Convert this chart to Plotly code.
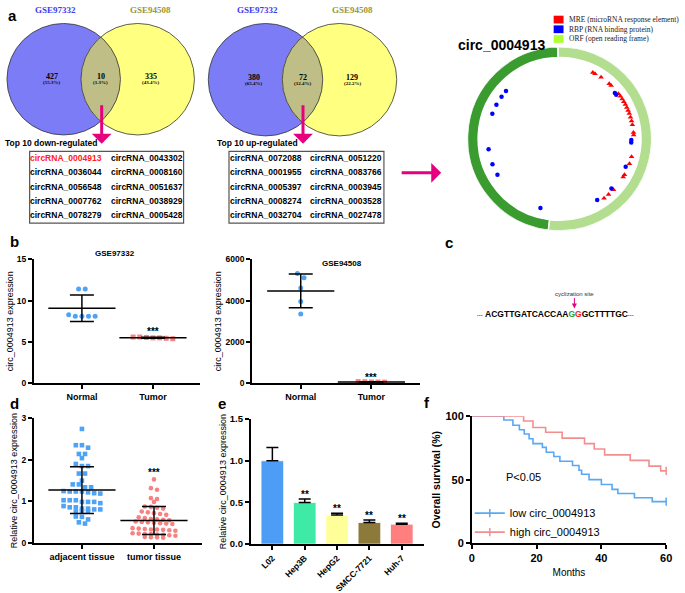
import numpy as np
import plotly.graph_objects as go

W, H = 685, 593
SANS = "Liberation Sans, Arial, sans-serif"
SERIF = "Liberation Serif, Times New Roman, serif"


def X(px):
    return px / W


def Y(py):
    return 1 - py / H


# ---------------- data ----------------
venn_names = ["GSE97332", "GSE94508"]
venn_down_counts = [427, 10, 335]
venn_down_pct = ["(55.3%)", "(1.3%)", "(43.4%)"]
venn_up_counts = [380, 72, 129]
venn_up_pct = ["(65.4%)", "(12.4%)", "(22.2%)"]

top10_down = ["circRNA_0004913", "circRNA_0043302", "circRNA_0036044", "circRNA_0008160",
              "circRNA_0056548", "circRNA_0051637", "circRNA_0007762", "circRNA_0038929",
              "circRNA_0078279", "circRNA_0005428"]
top10_up = ["circRNA_0072088", "circRNA_0051220", "circRNA_0001955", "circRNA_0083766",
            "circRNA_0005397", "circRNA_0003945", "circRNA_0008274", "circRNA_0003528",
            "circRNA_0032704", "circRNA_0027478"]
highlight = "circRNA_0004913"

circ_name = "circ_0004913"
circ_exon_span_deg = [172, 188]
mre_pos_deg = [63.4, 61.5, 56, 48, 46, 37.5, 35, 32.5, 30, 27.5, 25, 22.5, 20, 17, 14,
               11, 5, 3, 346, 340.4, 331, 329, 316.6, 311.3, 306.8]
rbp_pos_deg = [138.3, 144, 151.7, 159.6, 188.3, 200.7, 210, 254.5, 301.6, 316.3, 337.1,
               359, 357, 39.6, 37.9]
circ_legend = ["MRE (microRNA response element)", "RBP (RNA binding protein)",
               "ORF (open reading frame)"]

seq_left = "ACGTTGATCACCAA"
seq_junction = ["G", "G"]
seq_right = "GCTTTTGC"

b_groups = ["Normal", "Tumor"]
gse97332_normal = [11.4, 11.4, 8.3, 8.1, 8.1, 8.1, 8.1]
gse97332_tumor = [5.6, 5.55, 5.5, 5.4, 5.5, 5.45, 5.6]
gse94508_normal = [5310, 5100, 4600, 3950, 3350]
gse94508_tumor = [70, 85, 75, 90, 65]

d_groups = ["adjacent tissue", "tumor tissue"]
adjacent_tissue = [2.74, 2.35, 2.35, 2.29, 2.14, 2.14, 2.04, 1.9, 1.85, 1.85, 1.67, 1.67,
                   1.5, 1.41, 1.41, 1.34, 1.34, 1.25, 1.24, 1.24, 1.24, 1.22, 1.2, 1.19,
                   1.03, 1.03, 1.03, 0.99, 0.99, 0.99, 0.96, 0.89, 0.86, 0.86, 0.83, 0.83,
                   0.81, 0.81, 0.76, 0.76, 0.76, 0.64, 0.63, 0.57, 0.5, 0.47]
tumor_tissue = [1.53, 1.32, 1.28, 1.08, 1.06, 0.99, 0.88, 0.87, 0.85, 0.83, 0.76, 0.74,
                0.72, 0.7, 0.68, 0.62, 0.6, 0.58, 0.57, 0.56, 0.55, 0.52, 0.51, 0.5, 0.49,
                0.48, 0.47, 0.46, 0.36, 0.35, 0.34, 0.33, 0.33, 0.32, 0.31, 0.3, 0.24,
                0.23, 0.22, 0.22, 0.21, 0.2, 0.19, 0.18, 0.15, 0.14, 0.14, 0.13]

cell_lines = ["L02", "Hep3B", "HepG2", "SMCC-7721", "Huh-7"]
cell_expr = [1.0, 0.5, 0.35, 0.26, 0.24]
cell_sd = [0.16, 0.04, 0.02, 0.03, 0.012]
cell_sig = ["", "**", "**", "**", "**"]

km_low_months = [0, 9.9, 12.7, 14.7, 16.2, 17.7, 18.9, 21.8, 23, 25.3, 27.2, 31.1, 33.1,
                 33.9, 36.2, 40, 43.3, 45.1, 50.2, 55.7, 60]
km_low_surv = [100, 97, 92.9, 89.3, 86, 82.2, 78.4, 75.4, 71.6, 68.3, 64.5, 61.2, 57.4,
               54.3, 50, 46.2, 42.4, 39.1, 35.8, 32.7, 32.7]
km_high_months = [0, 16, 18.9, 22.8, 27.9, 34.8, 37.8, 41, 48.9, 54.7, 58.3, 60]
km_high_surv = [100, 96.2, 91.1, 87.3, 82.7, 78.4, 74.1, 69.5, 65.2, 60.7, 56.9, 56.9]
km_labels = ["low circ_0004913", "high circ_0004913"]
p_text = "P<0.05"

# ---------------- colours ----------------
BLUE = "#4fa3f7"
SALMON = "#f78282"
MAGENTA = "#e6007e"
KM_BLUE = "#5aa8f2"
KM_RED = "#f38e8e"
bar_colors = ["#4d9cf5", "#3eeaa6", "#ffff99", "#8b7a3a", "#ff7f7f"]

fig = go.Figure()


def row_offsets(vals, ppy, thr_px, dx_px):
    """Prism-like scatter: values falling within thr_px of a row's top share a row,
    spread horizontally and centred."""
    vals = np.asarray(vals, float)
    order = np.argsort(-vals)
    offs = np.zeros(len(vals))
    rows = []
    for i in order:
        if rows and (vals[rows[-1][0]] - vals[i]) * ppy <= thr_px:
            rows[-1].append(i)
        else:
            rows.append([i])
    for r in rows:
        n = len(r)
        for k, i in enumerate(r):
            offs[i] = (k - (n - 1) / 2) * dx_px
    return offs


def scatter_groups(xa, ya, data, colors, symbols, ppx, ppy, thr=3.5, dx=6.5, size=5):
    for i, (vals, col, sym) in enumerate(zip(data, colors, symbols)):
        offs = row_offsets(vals, ppy, thr, dx) / ppx
        fig.add_trace(go.Scatter(x=i + offs, y=vals, mode="markers",
                                 marker=dict(symbol=sym, size=size, color=col, line=dict(width=0)),
                                 xaxis=xa, yaxis=ya, showlegend=False, cliponaxis=False,
                                 hoverinfo="skip"))
    for i, vals in enumerate(data):
        m = float(np.mean(vals))
        s = float(np.std(vals, ddof=1))
        fig.add_trace(go.Scatter(x=[i], y=[m], mode="markers",
                                 marker=dict(symbol="line-ew", size=48, color="black",
                                             line=dict(width=1.5, color="black")),
                                 error_y=dict(type="data", array=[s], color="black",
                                              thickness=1.5, width=12),
                                 xaxis=xa, yaxis=ya, showlegend=False, cliponaxis=False))


# panel b
scatter_groups("x", "y", [gse97332_normal, gse97332_tumor], [BLUE, SALMON],
               ["circle", "square"], 72.0, 128.3 / 15, thr=3.5, dx=6.7)
scatter_groups("x2", "y2", [gse94508_normal, gse94508_tumor], [BLUE, SALMON],
               ["circle", "square"], 71.6, 128.3 / 6000, thr=5, dx=6.7)
# panel d
scatter_groups("x3", "y3", [adjacent_tissue, tumor_tissue], [BLUE, SALMON],
               ["square", "circle"], 73.0, 43.0, thr=3.5, dx=6.2, size=4.6)

# panel e
fig.add_trace(go.Bar(x=list(range(len(cell_lines))), y=cell_expr, width=0.7,
                     marker=dict(color=bar_colors, line=dict(color="rgba(255,255,255,0.8)", width=1)),
                     error_y=dict(type="data", array=cell_sd, arrayminus=[0] * len(cell_sd),
                                  symmetric=False, color="black", thickness=1.5, width=6),
                     xaxis="x4", yaxis="y4", showlegend=False))

# panel f
for months, surv, col, lab in [(km_low_months, km_low_surv, KM_BLUE, km_labels[0]),
                               (km_high_months, km_high_surv, KM_RED, km_labels[1])]:
    fig.add_trace(go.Scatter(x=months, y=surv, mode="lines", line=dict(shape="hv", color=col, width=1.6),
                             xaxis="x5", yaxis="y5", showlegend=False, cliponaxis=False))
    fig.add_trace(go.Scatter(x=[months[-1]], y=[surv[-1]], mode="markers",
                             marker=dict(symbol="line-ns", size=6, color=col, line=dict(width=1.5, color=col)),
                             xaxis="x5", yaxis="y5", showlegend=False, cliponaxis=False))
    fig.add_trace(go.Scatter(x=[None], y=[None], mode="lines+markers", name=lab,
                             line=dict(color=col, width=1.6),
                             marker=dict(symbol="line-ns", size=6, color=col, line=dict(width=1.5, color=col)),
                             xaxis="x5", yaxis="y5", showlegend=True))

# circos (polar)
starts = 91 + np.concatenate([[0], np.cumsum(circ_exon_span_deg)[:-1]])
centers = starts + np.array(circ_exon_span_deg) / 2
fig.add_trace(go.Barpolar(r=[11, 11], base=[84, 84], theta=centers, width=circ_exon_span_deg,
                          marker=dict(color=["#3a9b2f", "#b3de8f"], line=dict(color="white", width=1.5)),
                          subplot="polar", showlegend=False))
fig.add_trace(go.Scatterpolar(r=[76.5] * len(mre_pos_deg), theta=mre_pos_deg, mode="markers",
                              marker=dict(symbol="triangle-up", size=5, color="#ff0000"),
                              subplot="polar", showlegend=False))
fig.add_trace(go.Scatterpolar(r=[74] * len(rbp_pos_deg), theta=rbp_pos_deg, mode="markers",
                              marker=dict(symbol="circle", size=4.5, color="#0000ff"),
                              subplot="polar", showlegend=False))

# ---------------- axes ----------------
def tf(size):
    return dict(family=SANS, size=size, color="black", weight="bold")


base_axis = dict(showline=True, linecolor="black", linewidth=1.5, ticks="outside", ticklen=4,
                 tickwidth=1.5, tickcolor="black", showgrid=False, zeroline=False, fixedrange=True)


def ytitle(text, size=9, bold=False, standoff=2):
    return dict(text=text, font=dict(family=SANS, size=size, color="black",
                                     weight="bold" if bold else "normal"), standoff=standoff)


layout_axes = dict(
    xaxis=dict(base_axis, domain=[X(31), X(200)], range=[-0.68, 1.667], tickvals=[0, 1],
               ticktext=b_groups, tickfont=tf(9), anchor="y"),
    yaxis=dict(base_axis, domain=[Y(389.3), Y(261)], range=[0, 15], tickvals=[0, 5, 10, 15],
               tickfont=tf(8.5), anchor="x", title=ytitle("circ_0004913 expression")),
    xaxis2=dict(base_axis, domain=[X(252.3), X(422.7)], range=[-0.69, 1.69], tickvals=[0, 1],
                ticktext=b_groups, tickfont=tf(9), anchor="y2"),
    yaxis2=dict(base_axis, domain=[Y(389.3), Y(261)], range=[0, 6000], tickvals=[0, 2000, 4000, 6000],
                tickfont=tf(8.5), anchor="x2", title=ytitle("circ_0004913 expression")),
    xaxis3=dict(base_axis, domain=[X(31), X(202)], range=[-0.671, 1.671], tickvals=[0, 1],
                ticktext=d_groups, tickfont=tf(9), anchor="y3"),
    yaxis3=dict(base_axis, domain=[Y(554), Y(425)], range=[0, 3], tickvals=[0, 1, 2, 3],
                tickfont=tf(8.5), anchor="x3", title=ytitle("Relative circ_0004913 expression")),
    xaxis4=dict(base_axis, domain=[X(251), X(427)], range=[-0.67, 4.70],
                tickvals=list(range(len(cell_lines))), ticktext=cell_lines, tickangle=-45,
                tickfont=tf(8.5), anchor="y4"),
    yaxis4=dict(base_axis, domain=[Y(555), Y(426)], range=[0, 1.5], tickvals=[0, 0.5, 1.0, 1.5],
                tickformat=".1f", tickfont=tf(9.5), anchor="x4",
                title=ytitle("Relative circ_0004913 expression")),
    xaxis5=dict(base_axis, domain=[X(475), X(672)], range=[0, 60], tickvals=[0, 20, 40, 60],
                tickfont=tf(11), anchor="y5",
                title=dict(text="Months", font=dict(family=SANS, size=10, color="black"), standoff=6)),
    yaxis5=dict(base_axis, domain=[Y(554), Y(423)], range=[0, 100], tickvals=[0, 50, 100],
                tickfont=tf(11), anchor="x5", title=ytitle("Overall survival (%)", 10.5, True, 3)),
)

# ---------------- shapes & annotations ----------------
shapes = []
ann = []


def text(x, y, s, size=9, color="black", family=SANS, bold=False, xanchor="center", yanchor="middle", angle=0):
    ann.append(dict(x=X(x), y=Y(y), xref="paper", yref="paper", text=s, showarrow=False,
                    xanchor=xanchor, yanchor=yanchor, textangle=angle,
                    font=dict(family=family, size=size, color=color, weight="bold" if bold else "normal")))


def circle(cx, cy, r, fill, line_w=0, line_c="#333333"):
    shapes.append(dict(type="circle", xref="paper", yref="paper", x0=X(cx - r), x1=X(cx + r),
                       y0=Y(cy + r), y1=Y(cy - r), fillcolor=fill, line=dict(width=line_w, color=line_c),
                       layer="below"))


def lens(c1, c2, r, fill):
    (x1, y1), (x2, y2) = c1, c2
    a = (x2 - x1) / 2
    phi = np.arccos(a / r)
    pts = [(x1 + r * np.cos(t), y1 + r * np.sin(t)) for t in np.linspace(-phi, phi, 40)]
    pts += [(x2 + r * np.cos(t), y2 + r * np.sin(t)) for t in np.linspace(np.pi - phi, np.pi + phi, 40)]
    path = "M" + " L".join(f"{X(px):.5f},{Y(py):.5f}" for px, py in pts) + " Z"
    shapes.append(dict(type="path", xref="paper", yref="paper", path=path, fillcolor=fill,
                       line=dict(width=0), layer="below"))


def venn(c1x, c2x, cy, r, counts, pcts):
    circle(c1x, cy, r, "#7c7cf6")
    circle(c2x, cy, r, "#ffff80")
    lens((c1x, cy), (c2x, cy), r, "#bebe86")
    circle(c1x, cy, r, "rgba(0,0,0,0)", 0.8)
    circle(c2x, cy, r, "rgba(0,0,0,0)", 0.8)
    xs = [c1x - 12, (c1x + c2x) / 2, c2x + 13]
    for xx, c, p in zip(xs, counts, pcts):
        text(xx, cy - 2.5, str(c), 8, family=SERIF, bold=True)
        text(xx, cy + 3.8, p, 5, family=SERIF, bold=True)
    text(c1x - 8, 4, venn_names[0], 9, "#3b3bf0", SERIF, True)
    text(c2x + 13, 4, venn_names[1], 9, "#9a963a", SERIF, True)


venn(61.5, 136.5, 75.5, 57.5, venn_down_counts, venn_down_pct)
venn(266, 341, 76, 58, venn_up_counts, venn_up_pct)


def table(x0, x1, y0, y1, names, header, hx):
    shapes.append(dict(type="rect", xref="paper", yref="paper", x0=X(x0), x1=X(x1), y0=Y(y1), y1=Y(y0),
                       line=dict(color="#555555", width=1.2), fillcolor="rgba(0,0,0,0)"))
    text(hx, 141, header, 8.5, bold=True, xanchor="left")
    for k, nm in enumerate(names):
        row, col = divmod(k, 2)
        cx = x0 + (37 if col == 0 else 119)
        cy = y0 + 6.8 + row * 14.75
        text(cx, cy, nm, 8.5, "#ff2020" if nm == highlight else "black", bold=True)


table(27, 183, 150, 224, top10_down, "Top 10 down-regulated", 0.5)
table(229, 386, 150, 224, top10_up, "Top 10 up-regulated", 215)


def arrow(x, y, ax, ay, width=3, head=1, size=1.1, color=MAGENTA):
    ann.append(dict(x=X(x), y=Y(y), xref="paper", yref="paper", ax=ax, ay=ay, axref="pixel",
                    ayref="pixel", showarrow=True, arrowhead=head, arrowsize=size,
                    arrowwidth=width, arrowcolor=color, text=""))


arrow(100, 142, 0, -40)
arrow(304, 142, 0, -40)
arrow(444, 172, -41, 0)

# circos legend and title
legend_cols = ["#ff0000", "#0000ff", "#adff2f"]
for k, (lab, col) in enumerate(zip(circ_legend, legend_cols)):
    yc = 14 + 10 * k
    shapes.append(dict(type="rect", xref="paper", yref="paper", x0=X(558), x1=X(568),
                       y0=Y(yc + 4), y1=Y(yc - 4), fillcolor=col, line=dict(width=0)))
    text(572, yc, lab, 7.5, "#222222", SERIF, xanchor="left")
text(459, 40, circ_name, 14, bold=True, xanchor="left")

# panel c sequence
dots = "<span style='font-size:6px'>···</span>"
seq = (dots + " " + seq_left + f"<span style='color:#2ca02c'>{seq_junction[0]}</span>"
       + f"<span style='color:#ff2020'>{seq_junction[1]}</span>" + seq_right + dots)
text(560, 318, seq, 8.5, bold=True)
ann.append(dict(x=X(579), y=Y(312), xref="paper", yref="paper", ax=0, ay=-15, showarrow=True,
                arrowhead=2, arrowsize=1, arrowwidth=1, arrowcolor=MAGENTA, text="cyclization site",
                font=dict(family=SANS, size=6, color="#333333")))

# panel labels
for lab, (lx, ly) in {"a": (10, 10), "b": (12, 243), "c": (452, 244), "d": (12, 410),
                      "e": (222, 410), "f": (430, 409)}.items():
    text(lx, ly, lab, 15, bold=True)

# panel titles
text(113, 255, "GSE97332", 8, bold=True)
text(344, 266, "GSE94508", 8, bold=True)


# significance stars (data-anchored)
def stars(xa, ya, x, y, s, yshift=0):
    ann.append(dict(x=x, y=y, xref=xa, yref=ya, text=s, showarrow=False, yanchor="bottom",
                    yshift=yshift, font=dict(family=SANS, size=10, color="black", weight="bold")))


stars("x", "y", 1, max(gse97332_tumor), "***", -2)
stars("x2", "y2", 1, max(gse94508_tumor), "***", -3)
stars("x3", "y3", 1, max(tumor_tissue), "***", -1)
for i, (m, s, sig) in enumerate(zip(cell_expr, cell_sd, cell_sig)):
    if sig:
        stars("x4", "y4", i, m + s, sig, -3)

text(527, 486, p_text, 11)

fig.update_layout(
    width=W, height=H, margin=dict(l=0, r=0, t=0, b=0), paper_bgcolor="white", plot_bgcolor="white",
    font=dict(family=SANS, color="black"), shapes=shapes, annotations=ann,
    polar=dict(domain=dict(x=[X(469), X(659)], y=[Y(232), Y(42)]), bgcolor="rgba(0,0,0,0)",
               radialaxis=dict(visible=False, range=[0, 95]),
               angularaxis=dict(visible=False, rotation=0, direction="counterclockwise"),
               hole=0),
    legend=dict(x=X(473), y=Y(508), xanchor="left", yanchor="top", bgcolor="rgba(0,0,0,0)",
                font=dict(family=SANS, size=11, color="black"), itemwidth=30, tracegroupgap=0),
    showlegend=True,
    **layout_axes,
)

fig.write_html("out.html", config={"displayModeBar": False},
               post_script="document.body.style.margin='0px';")
